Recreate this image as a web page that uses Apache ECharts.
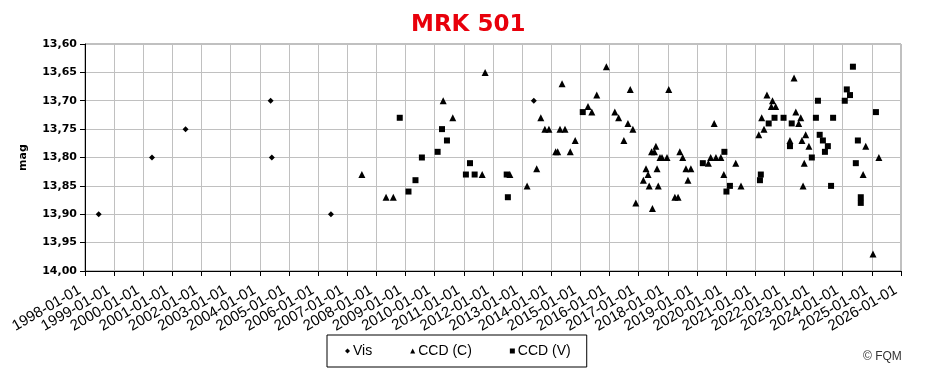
<!DOCTYPE html>
<html>
<head>
<meta charset="utf-8">
<script src="https://cdn.jsdelivr.net/npm/echarts@6/dist/echarts.min.js"></script>
<style>
html,body{margin:0;padding:0;background:#fff;}
#chart{width:930px;height:373px;}
</style>
</head>
<body>
<div id="chart"></div>
<script>
// Dates as decimal years, magnitudes
const visData = [
  [1998.47,13.90],[2000.30,13.80],[2001.45,13.75],[2004.37,13.70],[2004.41,13.80],
  [2006.44,13.90],[2013.40,13.70]
];
const ccdCData = [
  [2007.50,13.83],[2008.33,13.87],[2008.58,13.87],[2010.29,13.70],[2010.62,13.73],
  [2011.63,13.83],[2011.73,13.65],[2012.58,13.83],[2013.17,13.85],[2013.50,13.82],
  [2013.64,13.73],[2013.78,13.75],[2013.92,13.75],[2014.15,13.79],[2014.22,13.79],
  [2014.30,13.75],[2014.37,13.67],[2014.47,13.75],[2014.65,13.79],[2014.82,13.77],
  [2015.26,13.71],[2015.39,13.72],[2015.56,13.69],[2015.89,13.64],[2016.18,13.72],
  [2016.31,13.73],[2016.49,13.77],[2016.63,13.74],[2016.71,13.68],[2016.80,13.75],
  [2016.90,13.88],[2017.16,13.84],[2017.25,13.82],[2017.32,13.83],[2017.36,13.85],
  [2017.44,13.79],[2017.54,13.79],[2017.47,13.89],[2017.59,13.78],[2017.63,13.82],
  [2017.67,13.85],[2017.73,13.80],[2017.80,13.80],[2017.97,13.80],[2018.03,13.68],
  [2018.24,13.87],[2018.35,13.87],[2018.41,13.79],[2018.51,13.80],[2018.62,13.82],
  [2018.79,13.82],[2018.69,13.84],[2019.39,13.81],[2019.47,13.80],[2019.59,13.74],
  [2019.65,13.80],[2019.82,13.80],[2019.92,13.83],[2020.33,13.81],[2020.51,13.85],
  [2021.12,13.76],[2021.22,13.73],[2021.30,13.75],[2021.40,13.69],[2021.59,13.70],
  [2021.55,13.71],[2021.70,13.71],[2022.19,13.77],[2022.33,13.66],[2022.39,13.72],
  [2022.49,13.74],[2022.56,13.73],[2022.60,13.77],[2022.64,13.85],[2022.68,13.81],
  [2022.73,13.76],[2022.84,13.78],[2024.70,13.83],[2024.79,13.78],[2025.04,13.97],
  [2025.24,13.80]
];
const ccdVData = [
  [2008.80,13.73],[2009.10,13.86],[2009.34,13.84],[2009.56,13.80],[2010.10,13.79],
  [2010.25,13.75],[2010.42,13.77],[2011.07,13.83],[2011.21,13.81],[2011.37,13.83],
  [2012.47,13.83],[2012.51,13.87],[2015.08,13.72],[2019.20,13.81],[2019.94,13.79],
  [2020.01,13.86],[2020.13,13.85],[2021.16,13.84],[2021.19,13.83],[2021.46,13.74],
  [2021.66,13.73],[2021.97,13.73],[2022.19,13.78],[2022.25,13.74],[2022.94,13.80],
  [2023.08,13.73],[2023.15,13.70],[2023.21,13.76],[2023.32,13.77],[2023.39,13.79],
  [2023.49,13.78],[2023.60,13.85],[2023.67,13.73],[2024.07,13.70],[2024.14,13.68],
  [2024.25,13.69],[2024.35,13.64],[2024.45,13.81],[2024.52,13.77],[2024.62,13.87],
  [2024.62,13.88],[2025.14,13.72]
];
const xTickLabels = [
  '1998-01-01','1999-01-01','2000-01-01','2001-01-01','2002-01-01','2003-01-01',
  '2004-01-01','2005-01-01','2006-01-01','2007-01-01','2008-01-01','2009-01-01',
  '2010-01-01','2011-01-01','2012-01-01','2013-01-01','2014-01-01','2015-01-01',
  '2016-01-01','2017-01-01','2018-01-01','2019-01-01','2020-01-01','2021-01-01',
  '2022-01-01','2023-01-01','2024-01-01','2025-01-01','2026-01-01'
];
const seriesNames = ['Vis', 'CCD (C)', 'CCD (V)'];
const titleText = 'MRK 501';
const yAxisName = 'mag';
const credit = '\u00A9 FQM';
const xMin = 1998, xMax = 2026;
const yMin = 13.60, yMax = 14.00, yStep = 0.05;

const chart = echarts.init(document.getElementById('chart'), null, {renderer: 'canvas'});
chart.setOption({
  animation: false,
  backgroundColor: '#ffffff',
  title: {
    text: titleText,
    left: 406,
    top: 9,
    textStyle: {color: '#e8000b', fontFamily: 'DejaVu Sans', fontWeight: 'bold', fontSize: 23}
  },
  grid: {
    left: 85, right: 29, top: 44, bottom: 102,
    show: true, borderColor: '#808080', borderWidth: 1
  },
  legend: {
    data: seriesNames,
    left: 327, top: 335,
    orient: 'horizontal',
    itemWidth: 5, itemHeight: 5, itemGap: 38,
    padding: [9, 16, 9, 18],
    borderColor: '#000', borderWidth: 1,
    textStyle: {fontFamily: 'Liberation Sans', fontSize: 14, color: '#000', padding: [0, 0, 0, -2]}
  },
  xAxis: [
    {
      type: 'value', min: xMin, max: xMax, interval: 1, position: 'bottom',
      axisLine: {onZero: false, lineStyle: {color: '#000', width: 1}},
      axisTick: {show: false},
      splitLine: {show: true, lineStyle: {color: '#c0c0c0', width: 1}},
      axisLabel: {show: false}
    },
    {
      type: 'category', data: xTickLabels, boundaryGap: false, position: 'bottom',
      axisLine: {onZero: false, lineStyle: {color: '#000', width: 1}},
      axisTick: {show: true, length: 5, interval: 0, lineStyle: {color: '#000'}},
      splitLine: {show: false},
      axisLabel: {
        rotate: 30, margin: 15, color: '#000', interval: 0,
        fontFamily: 'Liberation Sans', fontSize: 15, padding: [0, 6, 0, 0]
      }
    }
  ],
  yAxis: {
    type: 'value', inverse: true, min: yMin, max: yMax, interval: yStep,
    name: yAxisName, nameLocation: 'middle', nameGap: 56, nameRotate: 90,
    nameTextStyle: {fontFamily: 'DejaVu Sans', fontWeight: 'bold', fontSize: 11, color: '#000'},
    axisLine: {show: true, lineStyle: {color: '#000', width: 1}},
    axisTick: {show: true, length: 5, lineStyle: {color: '#000'}},
    splitLine: {show: true, lineStyle: {color: '#c0c0c0', width: 1}},
    axisLabel: {
      margin: 8, color: '#000', fontFamily: 'DejaVu Sans', fontWeight: 'bold', fontSize: 11,
      formatter: v => v.toFixed(2).replace('.', ',')
    }
  },
  series: [
    {name: seriesNames[0], type: 'scatter', xAxisIndex: 0, data: visData, symbol: 'diamond', symbolSize: 6,
     itemStyle: {color: '#000', opacity: 1}},
    {name: seriesNames[1], type: 'scatter', xAxisIndex: 0, data: ccdCData, symbol: 'triangle', symbolSize: [7, 7],
     itemStyle: {color: '#000', opacity: 1}},
    {name: seriesNames[2], type: 'scatter', xAxisIndex: 0, data: ccdVData, symbol: 'rect', symbolSize: 6,
     itemStyle: {color: '#000', opacity: 1}}
  ],
  graphic: [{
    type: 'text', left: 863, top: 351,
    style: {text: credit, fill: '#333', font: '12px "Liberation Sans"'}
  }]
});
</script>
</body>
</html>
